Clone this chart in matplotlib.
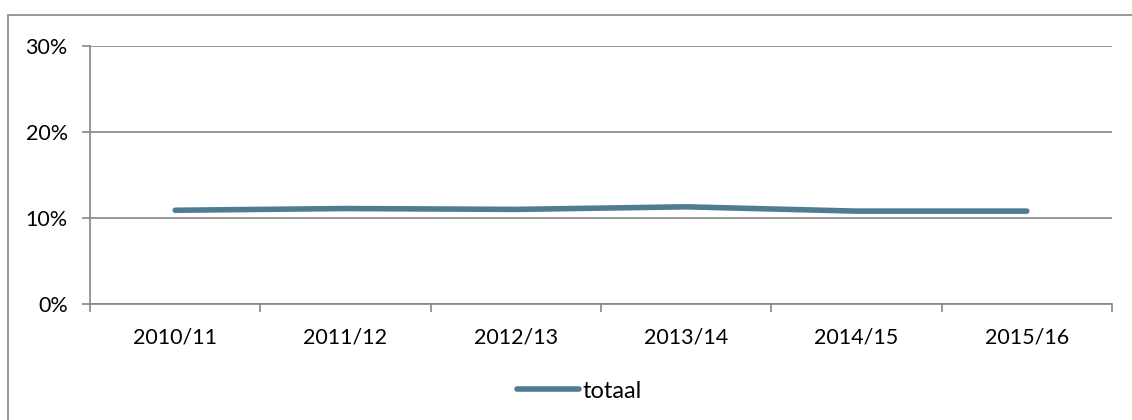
import numpy as np
import matplotlib.pyplot as plt
from matplotlib.patches import Rectangle

# data
years = ['2010/11', '2011/12', '2012/13', '2013/14', '2014/15', '2015/16']
totaal = [10.9, 11.1, 11.0, 11.3, 10.8, 10.8]

plt.rcParams['font.family'] = ['Lato', 'DejaVu Sans']

grey = '#868686'
fig = plt.figure(figsize=(11.32, 4.2), dpi=100)

# outer chart frame (only left and top edges fall inside the picture)
fig.add_artist(Rectangle((8 / 1132, -0.1), 1.2, (1 - 15 / 420) + 0.1,
                         transform=fig.transFigure, fill=False,
                         edgecolor=grey, linewidth=1.2))

ax = fig.add_axes([90 / 1132, 1 - 304 / 420, 1022 / 1132, 258 / 420])

x = np.arange(len(years))
ax.plot(x, totaal, color='#4F7B93', linewidth=4, solid_capstyle='round',
        label='totaal', zorder=3)

ax.set_xlim(-0.5, len(years) - 0.5)
ax.set_ylim(0, 30)
ax.set_yticks([0, 10, 20, 30])
ax.set_yticklabels(['0%', '10%', '20%', '30%'])
ax.yaxis.grid(True, color=grey, linewidth=1.2)
ax.set_axisbelow(True)

ax.set_xticks(x)
ax.set_xticklabels(years)
ax.set_xticks(np.arange(len(years) + 1) - 0.5, minor=True)
ax.tick_params(axis='x', which='major', length=0, pad=17)
ax.tick_params(axis='x', which='minor', length=6, color=grey, width=1.2)
ax.tick_params(axis='y', length=6, color=grey, width=1.2, pad=10)
ax.tick_params(labelsize=15.5, labelcolor='black')

for side in ['top', 'right']:
    ax.spines[side].set_visible(False)
for side in ['left', 'bottom']:
    ax.spines[side].set_color(grey)
    ax.spines[side].set_linewidth(1.2)

fig.legend(loc='center', bbox_to_anchor=(0.512, 1 - 391 / 420), frameon=False,
           fontsize=17, handlelength=2.6, handletextpad=0.15)

fig.savefig('out.png', dpi=100)
